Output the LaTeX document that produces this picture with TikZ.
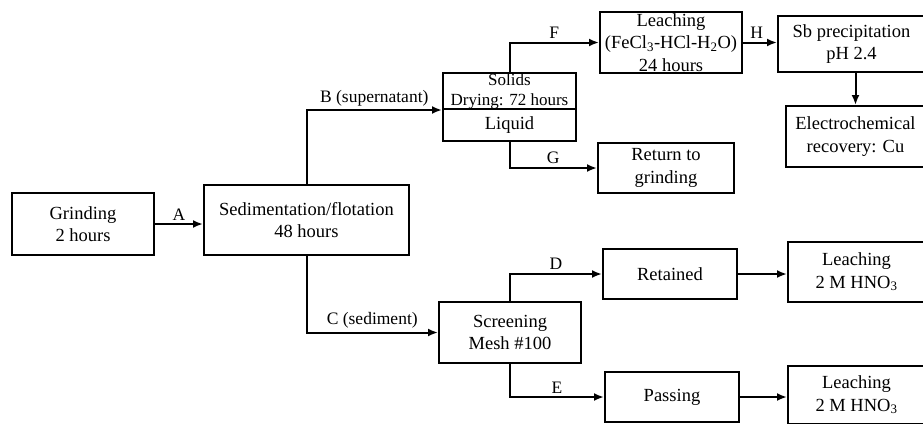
\documentclass[tikz,border=0pt]{standalone}
\usepackage{fontspec}
\setmainfont{Liberation Serif}
\usetikzlibrary{arrows.meta}
\tikzset{
  stage/.style={draw, line width=2pt, align=center, inner sep=2pt, font=\fontsize{18.5}{22.5}\selectfont},
  flow/.style={->, line width=2pt},
  tag/.style={font=\fontsize{17.5}{20}\selectfont, inner sep=3pt}
}

\begin{document}
\begin{tikzpicture}[x=1pt, y=-1pt, >={Latex[length=10pt,width=8pt]}]
  \useasboundingbox (0,0) rectangle (923,423);
  \clip (0,0) rectangle (923,423);
  % main line
  \node[stage, minimum width=142pt, minimum height=62pt] (grind) at (83,224) {Grinding\\2 hours};
  \node[stage, minimum width=205pt, minimum height=70pt] (sed) at (306.5,220) {Sedimentation/flotation\\48 hours};
  % supernatant branch
  \node[stage, minimum width=133pt, minimum height=36pt, inner sep=0pt, font=\fontsize{17}{20}\selectfont] (solids) at (509.5,91) {Solids\\Drying: 72 hours};
  \node[stage, minimum width=133pt, minimum height=32pt] (liquid) at (509.5,125) {Liquid};
  \node[stage, minimum width=142pt, minimum height=61pt, inner sep=0pt] (leach) at (671,42.5) {Leaching\\(FeCl\textsubscript{3}-HCl-H\textsubscript{2}O)\\24 hours};
  \node[stage, minimum width=147pt, minimum height=56pt] (sbprec) at (851.5,44) {Sb precipitation\\pH 2.4};
  \node[stage, minimum width=139pt, minimum height=61pt] (electro) at (855.5,136.5) {Electrochemical\\recovery: Cu};
  \node[stage, minimum width=136pt, minimum height=50pt] (back) at (666,168) {Return to\\grinding};
  % sediment branch
  \node[stage, minimum width=142pt, minimum height=61pt] (screen) at (510,332.5) {Screening\\Mesh \#100};
  \node[stage, minimum width=134pt, minimum height=50pt] (retained) at (670,274) {Retained};
  \node[stage, minimum width=134pt, minimum height=50pt] (passing) at (672,397) {Passing};
  \node[stage, minimum width=137pt, minimum height=60pt] (nitric1) at (856.5,272) {Leaching\\2 M HNO\textsubscript{3}};
  \node[stage, minimum width=137pt, minimum height=58pt] (nitric2) at (856.5,395) {Leaching\\2 M HNO\textsubscript{3}};

  \draw[flow] (grind.east) -- (grind.east -| sed.west) node[tag, midway, above] {A};
  \draw[flow] (sed.north) |- (solids.south west) node[tag, pos=0.75, above] {B (supernatant)};
  \draw[flow] (sed.south) |- (screen.west) node[tag, pos=0.75, above] {C (sediment)};
  \draw[flow] (solids.north) |- (leach.west) node[tag, pos=0.75, above] {F};
  \draw[flow] (liquid.south) |- (back.west) node[tag, pos=0.75, above] {G};
  \draw[flow] (leach.east) -- (leach.east -| sbprec.west) node[tag, pos=0.4, above] {H};
  \draw[flow] (sbprec.south -| electro.north) -- (electro.north);
  \draw[flow] (screen.north) |- (retained.west) node[tag, pos=0.75, above] {D};
  \draw[flow] (screen.south) |- (passing.west) node[tag, pos=0.75, above] {E};
  \draw[flow] (retained.east) -- (retained.east -| nitric1.west);
  \draw[flow] (passing.east) -- (passing.east -| nitric2.west);
\end{tikzpicture}
\end{document}
